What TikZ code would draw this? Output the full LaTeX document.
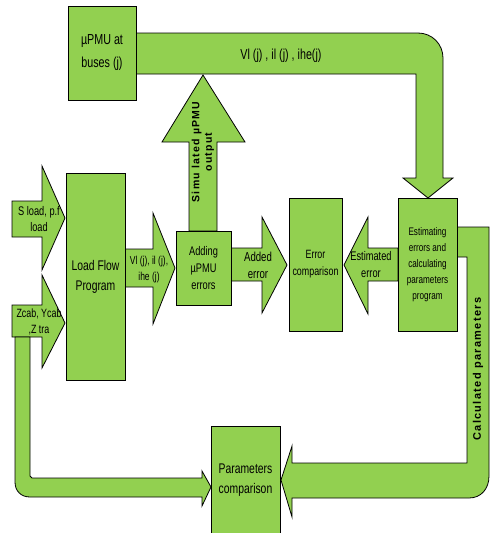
\documentclass[tikz,border=0pt]{standalone}
\usepackage{fontspec}
\setmainfont{Liberation Sans}[FakeStretch=0.74]
\newfontfamily\spacedsans{Liberation Sans}[LetterSpace=12]
\definecolor{gr}{RGB}{146,208,80}
\tikzset{
  blk/.style={fill=gr, draw=black, line width=0.8pt, line join=miter},
  box/.style={blk, inner sep=0pt, align=center},
  lbl/.style={inner sep=0pt, align=center, font=\fontsize{11.5}{15}\selectfont},
  rot/.style={inner sep=0pt, align=center, rotate=90, font=\spacedsans\bfseries\fontsize{10.5}{12.5}\selectfont}
}
\begin{document}
\begin{tikzpicture}[x=1pt,y=-1pt]
\useasboundingbox (0,0) rectangle (493,533);
\clip (0,0) rectangle (493,533);
% block arrows
\draw[blk] (136,33) -- (418,33) .. controls (432,33) and (443,44) .. (443,58) -- (443,178) -- (453,178) -- (428,198) -- (403,178) -- (416,178) -- (416,74) -- (136,74) -- cycle;
\draw[blk] (189,231) -- (189,142) -- (162,142) -- (203,75) -- (245,142) -- (217,142) -- (217,231) -- cycle;
\draw[blk] (12,201) -- (42,201) -- (42,166) -- (65,218) -- (42,270) -- (42,237) -- (12,237) -- cycle;
\draw[blk] (12,305) -- (42,305) -- (42,275) -- (65,323) -- (42,368) -- (42,337) -- (12,337) -- cycle;
\draw[blk] (15,337) -- (15,482) .. controls (15,491) and (21,497) .. (30,497) -- (202,497) -- (202,506) -- (211,487) -- (202,471) -- (202,478) -- (32,478) -- (30,476) -- (30,337) -- cycle;
\draw[blk] (125,249) -- (153,249) -- (153,213) -- (175,268) -- (153,324) -- (153,287) -- (125,287) -- cycle;
\draw[blk] (231,248) -- (262,248) -- (262,217) -- (287,265) -- (262,313) -- (262,281) -- (231,281) -- cycle;
\draw[blk] (398,248) -- (368,248) -- (368,217) -- (344,265) -- (368,314) -- (368,281) -- (398,281) -- cycle;
\draw[blk] (457,227) -- (489,227) -- (489,476) .. controls (489,489) and (481,498) .. (469,498) -- (292,498) -- (292,517) -- (281,480) -- (292,446) -- (292,463) -- (467,463) -- (467,257) -- (457,257) -- cycle;
% boxes
\node[box, minimum width=68pt, minimum height=94pt, font=\fontsize{14.5}{23}\selectfont] (pmu) at (102,53) {µPMU at\\buses (j)};
\node[box, minimum width=59pt, minimum height=207pt, font=\fontsize{14}{20}\selectfont] (lf) at (95.5,276.5) {Load Flow\\Program};
\node[box, minimum width=55pt, minimum height=74pt, font=\fontsize{12.5}{17}\selectfont] (add) at (203.5,268) {Adding\\µPMU\\errors};
\node[box, minimum width=53pt, minimum height=133pt, font=\fontsize{12}{17}\selectfont] (ec) at (315.5,264.5) {Error\\comparison};
\node[box, minimum width=59pt, minimum height=133pt, font=\fontsize{11}{16}\selectfont] (est) at (427.5,264.5) {Estimating\\errors and\\calculating\\parameters\\program};
\node[box, minimum width=69pt, minimum height=114pt, anchor=north] (pc) at (245.5,426) {};
\node[lbl, font=\fontsize{14}{20}\selectfont] (pct) at (245.5,480) {Parameters\\comparison};
% labels
\node[lbl, font=\fontsize{14.5}{16}\selectfont] (tv) at (281,56) {Vl (j) , il (j) , ihe(j)};
\node[rot] (sim) at (203,152) {Simu lated µPMU\\output};
\node[rot, font=\spacedsans\bfseries\fontsize{11}{13}\selectfont] (cp) at (478,369) {Calculated parameters};
\node[lbl, font=\fontsize{12.5}{16}\selectfont] (sl) at (39,219) {S load, p.f\\load};
\node[lbl, font=\fontsize{12}{16}\selectfont] (zc) at (39,322) {Zcab, Ycab\\,Z tra};
\node[lbl, font=\fontsize{11.5}{16}\selectfont] (vj) at (149,270) {Vl (j), il (j),\\ihe (j)};
\node[lbl, font=\fontsize{13}{17}\selectfont] (ae) at (258,265) {Added\\error};
\node[lbl, font=\fontsize{12.5}{17}\selectfont] (ee) at (371,265) {Estimated\\error};
\end{tikzpicture}
\end{document}
